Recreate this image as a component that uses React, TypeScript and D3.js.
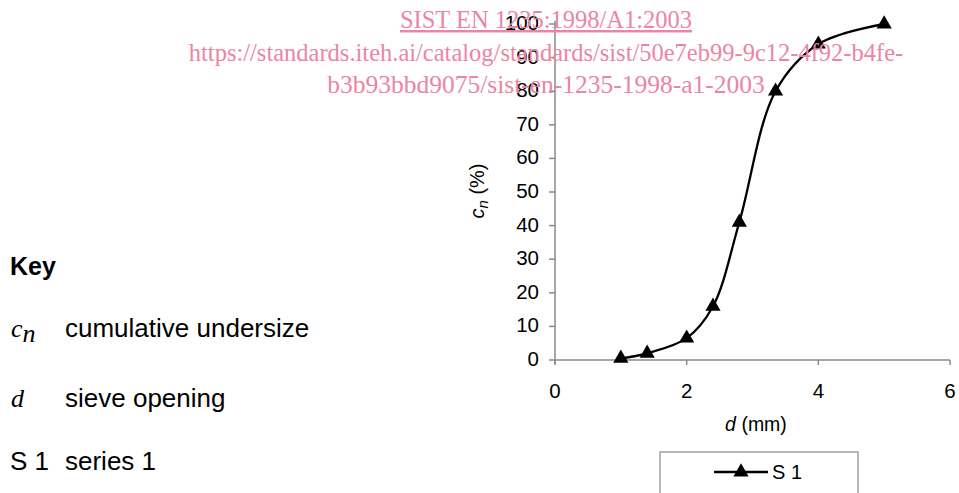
import React from "react";
import * as d3 from "d3";

const dValues = [1.0, 1.4, 2.0, 2.4, 2.8, 3.35, 4.0, 5.0];
const cnValues = [0.5, 2, 6.5, 16, 41, 80, 94, 100];
const xTicks = [0, 2, 4, 6];
const yTicks = [0, 10, 20, 30, 40, 50, 60, 70, 80, 90, 100];
const watermark = [
  "SIST EN 1235:1998/A1:2003",
  "https://standards.iteh.ai/catalog/standards/sist/50e7eb99-9c12-4f92-b4fe-",
  "b3b93bbd9075/sist-en-1235-1998-a1-2003",
];
const keyItems = [
  { sym: "c", sub: "n", text: "cumulative undersize" },
  { sym: "d", sub: "", text: "sieve opening" },
  { sym: "S 1", sub: "", text: "series 1" },
];
const seriesName = "S 1";

const W = 959;
const H = 493;

export default function App() {
  const x = d3.scaleLinear().domain([0, 6]).range([555, 950]);
  const y = d3.scaleLinear().domain([0, 100]).range([360, 24]);
  const pts = dValues.map((d, i) => [x(d), y(cnValues[i])] as [number, number]);
  const line = d3.line().curve(d3.curveCatmullRom.alpha(0.5))(pts) || "";
  const tri = d3.symbol().type(d3.symbolTriangle).size(100)() || "";
  const axisColor = "#8a8a8a";
  const sans = "Arial, 'Liberation Sans', Helvetica, sans-serif";
  const serif = "'Times New Roman', 'Liberation Serif', Times, serif";
  const keyBase = [337, 407, 470];

  return (
    <svg width={W} height={H} style={{ position: "absolute", left: 0, top: 0, background: "#fff" }}>
      <rect x={0} y={0} width={W} height={H} fill="#fff" />
      {/* Key */}
      <text x={10} y={275} fontFamily={sans} fontWeight="bold" fontSize={25} fill="#000">Key</text>
      {keyItems.map((k, i) =>
        k.sym === "S 1" ? (
          <g key={i}>
            <text x={10} y={keyBase[i]} fontFamily={sans} fontSize={26} fill="#000">{k.sym}</text>
            <text x={65} y={keyBase[i]} fontFamily={sans} fontSize={26} fill="#000">{k.text}</text>
          </g>
        ) : (
          <g key={i}>
            <text x={11} y={keyBase[i]} fontFamily={serif} fontStyle="italic" fontSize={26} fill="#000">
              {k.sym}
              {k.sub ? <tspan dy={5}>{k.sub}</tspan> : null}
            </text>
            <text x={65} y={keyBase[i]} fontFamily={sans} fontSize={26} fill="#000">{k.text}</text>
          </g>
        )
      )}

      {/* Axes */}
      <line x1={x(0)} x2={x(0)} y1={y(100) - 3} y2={y(0) + 4} stroke={axisColor} strokeWidth={1.5} />
      <line x1={x(0)} x2={x(6)} y1={y(0)} y2={y(0)} stroke={axisColor} strokeWidth={1.5} />
      {yTicks.map((t) => (
        <g key={"y" + t}>
          <line x1={x(0) - 6} x2={x(0)} y1={y(t)} y2={y(t)} stroke={axisColor} strokeWidth={1.5} />
          <text x={x(0) - 16} y={y(t) + 6} textAnchor="end" fontFamily={sans} fontSize={20.5} fill="#000">{t}</text>
        </g>
      ))}
      {xTicks.map((t) => (
        <g key={"x" + t}>
          <line x1={x(t)} x2={x(t)} y1={y(0)} y2={y(0) + 5} stroke={axisColor} strokeWidth={1.5} />
          <text x={x(t)} y={398} textAnchor="middle" fontFamily={sans} fontSize={20.5} fill="#000">{t}</text>
        </g>
      ))}
      {/* axis titles */}
      <text x={756} y={431} textAnchor="middle" fontFamily={sans} fontSize={19.5} fill="#000">
        <tspan fontStyle="italic">d</tspan> (mm)
      </text>
      <g transform="translate(484,191) rotate(-90)">
        <text x={0} y={0} textAnchor="middle" fontFamily={sans} fontSize={20} fill="#000">
          <tspan fontStyle="italic">c</tspan>
          <tspan fontStyle="italic" fontSize={15} dy={4}>n</tspan>
          <tspan dy={-4}> (%)</tspan>
        </text>
      </g>

      {/* series */}
      <path d={line} fill="none" stroke="#000" strokeWidth={2.3} />
      {pts.map((p, i) => (
        <path key={i} d={tri} transform={`translate(${p[0]},${p[1]})`} fill="#000" />
      ))}

      {/* legend */}
      <rect x={660} y={452} width={198} height={60} fill="#fff" stroke="#8a8a8a" strokeWidth={1.2} />
      <line x1={714} x2={768} y1={472} y2={472} stroke="#000" strokeWidth={2.3} />
      <path d={tri} transform="translate(741,472)" fill="#000" />
      <text x={772} y={479} fontFamily={sans} fontSize={20} fill="#000">{seriesName}</text>

      {/* watermark */}
      {watermark.map((w, i) => (
        <text
          key={i}
          x={546}
          y={28 + i * 32.5}
          textAnchor="middle"
          fontFamily={serif}
          fontSize={i === 2 ? 25.5 : 24.5}
          fill="#ec85a5"
          textDecoration={i === 0 ? "underline" : undefined}
        >
          {w}
        </text>
      ))}
    </svg>
  );
}
